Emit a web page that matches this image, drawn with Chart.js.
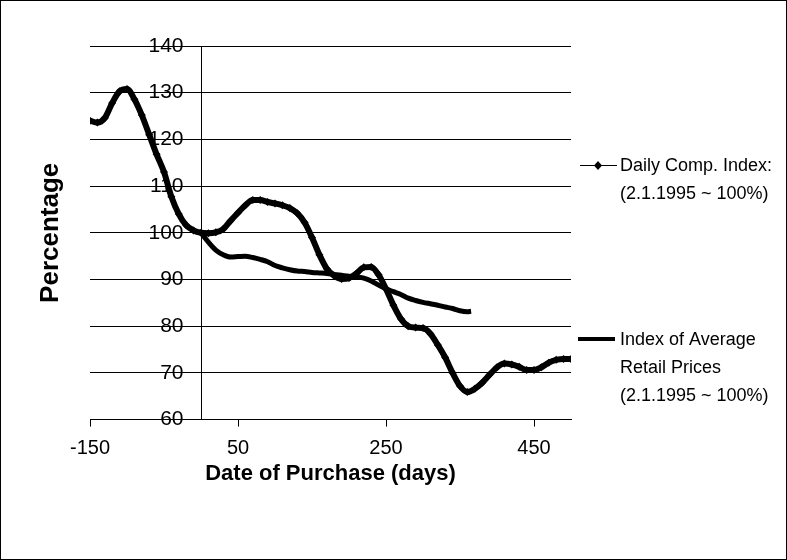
<!DOCTYPE html>
<html>
<head>
<meta charset="utf-8">
<script src="https://cdn.jsdelivr.net/npm/chart.js@4.4.1/dist/chart.umd.min.js"></script>
<style>
  html, body { margin: 0; padding: 0; background: #fff; }
  #wrap { position: relative; width: 787px; height: 560px; }
</style>
</head>
<body>
<div id="wrap"><canvas id="chart" width="787" height="560"></canvas></div>
<script>
// days relative to 2.1.1995
const compDays = [-150, -140, -130, -120, -110, -100, -90, -80, -70, -60, -50, -40, -30, -20, -10,
  0, 10, 20, 30, 40, 50, 60, 70, 80, 90, 100, 110, 120, 130, 140, 150, 160, 170, 180, 190,
  200, 210, 220, 230, 240, 250, 260, 270, 280, 290, 300, 310, 320, 330, 340, 350, 360, 370,
  380, 390, 400, 410, 420, 430, 440, 450, 460, 470, 480, 490, 500];
const compValues = [124.0, 123.6, 124.6, 127.8, 130.3, 130.8, 128.6, 125.2, 121.0, 116.8, 113.0, 107.7, 104.0, 101.6, 100.5,
  100.0, 99.9, 100.1, 100.8, 102.6, 104.3, 105.9, 107.0, 107.0, 106.6, 106.3, 105.9, 105.3, 104.2, 102.2, 99.0, 95.3, 92.3, 90.8, 90.1,
  90.3, 91.3, 92.6, 92.7, 91.0, 88.0, 84.5, 81.6, 80.0, 79.7, 79.6, 78.4, 76.0, 73.3, 70.0, 67.2, 65.9, 66.6,
  67.9, 69.6, 71.2, 72.0, 71.8, 71.3, 70.6, 70.6, 71.2, 72.2, 72.8, 73.0, 73.0];

const retailDays = [0, 10, 20, 30, 40, 50, 60, 70, 80, 90, 100, 110, 120, 130, 140, 150, 160, 170, 180,
  190, 200, 210, 220, 230, 240, 250, 260, 270, 280, 290, 300, 310, 320, 330, 340, 350, 360, 365];
const retailValues = [100.0, 98.0, 96.3, 95.3, 94.8, 94.9, 95.0, 94.7, 94.3, 93.8, 93.0, 92.5, 92.1, 91.8, 91.7, 91.5, 91.4, 91.3, 91.1,
  90.9, 90.7, 90.6, 90.3, 89.7, 88.8, 88.0, 87.4, 86.8, 86.0, 85.5, 85.1, 84.8, 84.5, 84.1, 83.8, 83.3, 83.1, 83.2];

const xTicks = [-150, 50, 250, 450];
const yTicks = [60, 70, 80, 90, 100, 110, 120, 130, 140];

const compLegend = ["Daily Comp. Index:", "(2.1.1995 ~ 100%)"];
const retailLegend = ["Index of Average", "Retail Prices", "(2.1.1995 ~ 100%)"];

const FONT = "'Liberation Sans', Arial, sans-serif";

function toPoints(xs, ys) {
  return xs.map((x, i) => ({x: x, y: ys[i]}));
}

// frame, rotated y title and the legend at the right
const extras = {
  id: "extras",
  afterDraw(chart) {
    const ctx = chart.ctx;
    const area = chart.chartArea;
    ctx.save();
    ctx.strokeStyle = "#000";
    ctx.lineWidth = 1;
    ctx.strokeRect(0.5, 0.5, chart.width - 1, chart.height - 1);

    ctx.fillStyle = "#000";
    ctx.font = "bold 26px " + FONT;
    ctx.textAlign = "center";
    ctx.textBaseline = "middle";
    ctx.translate(51, (area.top + area.bottom) / 2);
    ctx.rotate(-Math.PI / 2);
    ctx.fillText("Percentage", 0, 0);
    ctx.setTransform(1, 0, 0, 1, 0, 0);

    ctx.font = "18px " + FONT;
    ctx.textAlign = "left";
    // comp index: thin line with diamond
    ctx.lineWidth = 1;
    ctx.beginPath();
    ctx.moveTo(580, 165.5);
    ctx.lineTo(617, 165.5);
    ctx.stroke();
    ctx.beginPath();
    ctx.moveTo(598, 161);
    ctx.lineTo(602, 165.5);
    ctx.lineTo(598, 170);
    ctx.lineTo(594, 165.5);
    ctx.closePath();
    ctx.fill();
    compLegend.forEach((t, i) => ctx.fillText(t, 620, 166 + i * 28));

    // retail prices: thick line
    ctx.lineWidth = 4;
    ctx.beginPath();
    ctx.moveTo(578, 339);
    ctx.lineTo(615, 339);
    ctx.stroke();
    retailLegend.forEach((t, i) => ctx.fillText(t, 620, 340 + i * 28));
    ctx.restore();
  }
};

new Chart(document.getElementById("chart"), {
  type: "line",
  data: {
    datasets: [
      {
        label: compLegend.join(" "),
        data: toPoints(compDays, compValues),
        borderColor: "#000",
        backgroundColor: "#000",
        borderWidth: 6,
        pointStyle: "rectRot",
        pointRadius: 4,
        pointBorderWidth: 0,
        pointBackgroundColor: "#000",
        cubicInterpolationMode: "monotone",
        fill: false
      },
      {
        label: retailLegend.join(" "),
        data: toPoints(retailDays, retailValues),
        borderColor: "#000",
        borderWidth: 5,
        pointRadius: 0,
        cubicInterpolationMode: "monotone",
        fill: false
      }
    ]
  },
  options: {
    responsive: false,
    animation: false,
    layout: {padding: {left: 90, right: 216, top: 46, bottom: 69}},
    plugins: {
      legend: {display: false},
      tooltip: {enabled: false}
    },
    scales: {
      x: {
        type: "linear",
        min: -150,
        max: 500,
        afterBuildTicks: (s) => { s.ticks = xTicks.map(v => ({value: v})); },
        grid: {drawOnChartArea: false, tickLength: 7, color: "#000"},
        border: {color: "#000", width: 1},
        ticks: {color: "#000", font: {family: FONT, size: 20}, padding: 10, maxRotation: 0},
        title: {
          display: true,
          text: "Date of Purchase (days)",
          color: "#000",
          font: {family: FONT, size: 22, weight: "bold"},
          padding: {top: -10, bottom: 4}
        }
      },
      y: {
        type: "linear",
        position: {x: 0},
        min: 60,
        max: 140,
        afterBuildTicks: (s) => { s.ticks = yTicks.map(v => ({value: v})); },
        grid: {color: "#000", lineWidth: 1, tickLength: 7},
        border: {color: "#000", width: 1},
        // labels sit right against an axis placed at x = 0, so push them left
        ticks: {color: "#000", font: {family: FONT, size: 21}, callback: (v) => v + "   "}
      }
    }
  },
  plugins: [extras]
});
</script>
</body>
</html>
